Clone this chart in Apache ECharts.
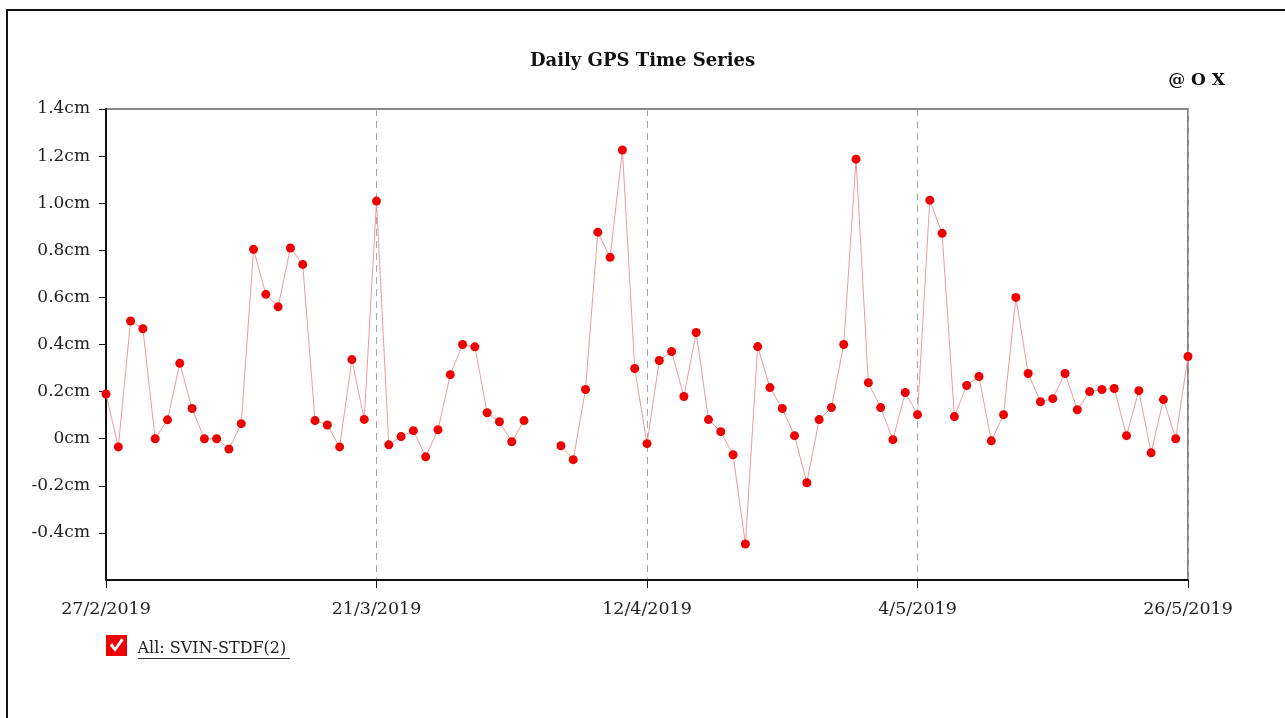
<!DOCTYPE html>
<html>
<head>
<meta charset="utf-8">
<script src="https://cdn.jsdelivr.net/npm/echarts@6/dist/echarts.min.js"></script>
<style>html,body{margin:0;padding:0;background:#fff}#c{width:1285px;height:718px}</style>
</head>
<body>
<div id="c"></div>
<script>
// Start date of the daily series (27/2/2019) and number of days
var startDate = [2019, 2, 27];
var dayCount = 89;
// Daily values (cm); null = no solution that day
var values = [
  0.19, -0.035, 0.50, 0.467, 0.00, 0.08, 0.32, 0.128, 0.00, 0.00,
  -0.044, 0.064, 0.804, 0.613, 0.56, 0.81, 0.74, 0.077, 0.058, -0.035,
  0.336, 0.082, 1.009, -0.026, 0.009, 0.034, -0.077, 0.038, 0.272, 0.40,
  0.39, 0.11, 0.072, -0.013, 0.077, null, null, -0.03, -0.089, 0.209,
  0.877, 0.77, 1.226, 0.298, -0.021, 0.332, 0.37, 0.179, 0.451, 0.081,
  0.03, -0.068, -0.447, 0.391, 0.217, 0.128, 0.013, -0.187, 0.081, 0.132,
  0.40, 1.187, 0.238, 0.132, -0.004, 0.196, 0.102, 1.013, 0.872, 0.094,
  0.226, 0.264, -0.009, 0.102, 0.60, 0.277, 0.157, 0.17, 0.277, 0.123,
  0.20, 0.209, 0.213, 0.013, 0.204, -0.06, 0.166, 0.00, 0.349
];
var yTicks = [-0.4, -0.2, 0, 0.2, 0.4, 0.6, 0.8, 1.0, 1.2, 1.4];
var seriesName = 'All: SVIN-STDF(2)';
var titleText = 'Daily GPS Time Series';
var cornerText = '@ O X';

var categories = [];
for (var i = 0; i < dayCount; i++) {
  var d = new Date(startDate[0], startDate[1] - 1, startDate[2] + i);
  categories.push(d.getDate() + '/' + (d.getMonth() + 1) + '/' + d.getFullYear());
}

var serif = '"DejaVu Serif", "Liberation Serif", serif';
var chart = echarts.init(document.getElementById('c'));
chart.setOption({
  animation: false,
  backgroundColor: '#fff',
  title: [
    { text: titleText, left: 'center', top: 52, padding: 0,
      textStyle: { fontFamily: serif, fontWeight: 'bold', fontSize: 18, color: '#111' } },
    { text: cornerText, right: 60, top: 72, padding: 0,
      textStyle: { fontFamily: serif, fontWeight: 'bold', fontSize: 17, color: '#111' } }
  ],
  graphic: [
    { type: 'rect', silent: true, z: -1,
      shape: { x: 7, y: 10, width: 1300, height: 800 },
      style: { fill: 'none', stroke: '#111', lineWidth: 2 } },
    { type: 'line', silent: true,
      shape: { x1: 138, y1: 658.5, x2: 290, y2: 658.5 },
      style: { stroke: '#333', lineWidth: 1 } }
  ],
  legend: {
    left: 106, top: 635, padding: 0,
    itemWidth: 22, itemHeight: 21,
    icon: 'path://M0,0H22V22H0Z M4,11L9.5,17.5L18.5,5.5L16,3.5L9.5,13L6.5,8.5Z',
    formatter: function (name) { return '{t|' + name + '}'; },
    textStyle: {
      fontFamily: serif, fontSize: 16, color: '#222',
      rich: { t: { fontFamily: serif, fontSize: 16, color: '#222', padding: [7, 0, 0, 5] } }
    },
    data: [seriesName]
  },
  grid: {
    left: 106, right: 97, top: 109, bottom: 138,
    show: true, borderColor: '#888', borderWidth: 2, backgroundColor: 'transparent'
  },
  xAxis: {
    type: 'category',
    data: categories,
    boundaryGap: false,
    axisLine: { show: true, onZero: false, lineStyle: { color: '#111', width: 2 } },
    axisTick: { show: true, interval: 21, length: 8, lineStyle: { color: '#111', width: 1 } },
    axisLabel: { interval: 21, margin: 20, fontFamily: serif, fontSize: 17.5, color: '#222' },
    splitLine: { show: true, interval: 21, lineStyle: { color: '#aaa', type: [7, 5], width: 1 } }
  },
  yAxis: {
    type: 'value',
    min: -0.6, max: 1.4, interval: 0.2,
    axisLine: { show: true, onZero: false, lineStyle: { color: '#111', width: 2 } },
    axisTick: { show: true, length: 7, customValues: yTicks, lineStyle: { color: '#111' } },
    axisLabel: {
      customValues: yTicks, margin: 16, fontFamily: serif, fontSize: 17, color: '#222',
      formatter: function (v) { return (Math.abs(v) < 1e-9 ? '0' : v.toFixed(1)) + 'cm'; }
    },
    splitLine: { show: false }
  },
  series: [{
    name: seriesName,
    type: 'line',
    data: values,
    connectNulls: false,
    symbol: 'circle',
    symbolSize: 9,
    showSymbol: true,
    showAllSymbol: true,
    itemStyle: { color: '#ee0000' },
    lineStyle: { color: '#f29a9a', width: 1 },
    z: 3
  }]
});
</script>
</body>
</html>
